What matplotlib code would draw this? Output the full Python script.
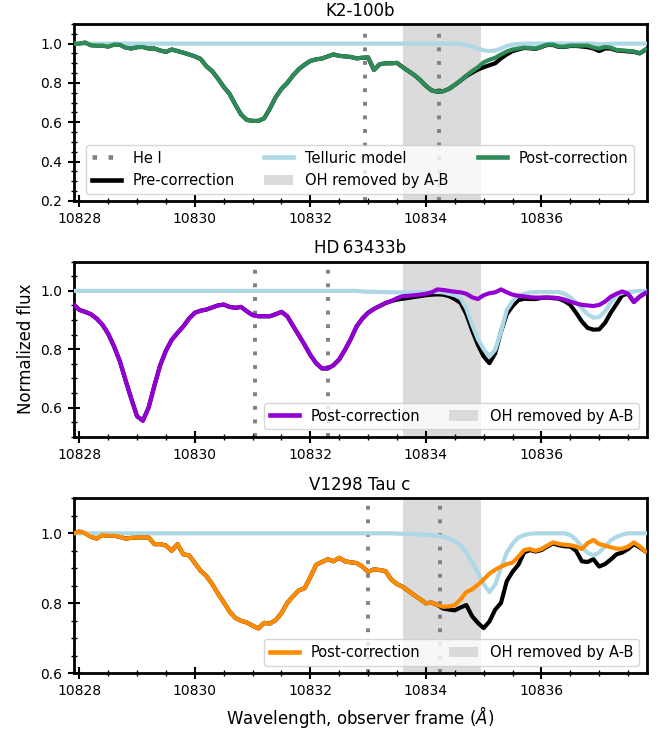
import numpy as np
import matplotlib
matplotlib.use("Agg")
import matplotlib.pyplot as plt
from matplotlib.ticker import MultipleLocator, AutoMinorLocator
from matplotlib.patches import Patch
from matplotlib.lines import Line2D

# wavelength grid of the spectra (Angstrom, observer frame), 0.1 A sampling
wave = np.round(np.linspace(10827.9, 10837.8, 100), 2)

# ---- K2-100b ----
k2_post = [0.998, 1.0, 1.005, 0.992, 0.99, 0.99, 0.985, 0.995, 0.995, 0.98,
           0.975, 0.982, 0.983, 0.975, 0.975, 0.965, 0.958, 0.97, 0.962, 0.954,
           0.945, 0.935, 0.922, 0.885, 0.86, 0.822, 0.78, 0.745, 0.69, 0.64,
           0.612, 0.607, 0.607, 0.62, 0.67, 0.728, 0.77, 0.8, 0.838, 0.87,
           0.893, 0.912, 0.92, 0.924, 0.935, 0.945, 0.938, 0.935, 0.932, 0.925,
           0.928, 0.93, 0.866, 0.895, 0.9, 0.9, 0.902, 0.88, 0.86, 0.84,
           0.815, 0.785, 0.762, 0.755, 0.758, 0.77, 0.79, 0.812, 0.838, 0.86,
           0.88, 0.905, 0.918, 0.928, 0.945, 0.96, 0.97, 0.975, 0.98, 0.978,
           0.975, 0.985, 0.995, 0.995, 0.985, 0.985, 0.99, 0.99, 0.99, 0.99,
           0.98, 0.975, 0.983, 0.98, 0.968, 0.966, 0.963, 0.96, 0.952, 0.97]
k2_pre = [0.998, 1.0, 1.005, 0.992, 0.99, 0.99, 0.985, 0.995, 0.995, 0.98,
          0.975, 0.982, 0.983, 0.975, 0.975, 0.965, 0.958, 0.97, 0.962, 0.954,
          0.945, 0.935, 0.922, 0.885, 0.86, 0.822, 0.78, 0.745, 0.69, 0.64,
          0.612, 0.607, 0.607, 0.62, 0.67, 0.728, 0.77, 0.8, 0.838, 0.87,
          0.893, 0.912, 0.92, 0.924, 0.935, 0.945, 0.938, 0.935, 0.932, 0.925,
          0.928, 0.93, 0.866, 0.895, 0.9, 0.9, 0.902, 0.88, 0.86, 0.84,
          0.815, 0.785, 0.762, 0.755, 0.758, 0.77, 0.79, 0.812, 0.835, 0.852,
          0.868, 0.88, 0.89, 0.9, 0.925, 0.945, 0.962, 0.97, 0.978, 0.976,
          0.973, 0.983, 0.993, 0.993, 0.983, 0.983, 0.988, 0.988, 0.985, 0.982,
          0.975, 0.962, 0.975, 0.975, 0.965, 0.963, 0.96, 0.958, 0.95, 0.968]
k2_tell = [1.0] * 10 + [1.0] * 10 + [1.0] * 10 + [1.0] * 10 + [1.0] * 10 + [1.0] * 10 + \
          [1.0, 1.0, 1.0, 1.0, 1.0, 1.0, 1.0, 0.998, 0.993, 0.985,
           0.975, 0.966, 0.962, 0.965, 0.975, 0.988, 0.995, 0.998, 1.0, 1.0,
           1.0, 1.0, 1.0, 1.0, 1.0, 1.0, 1.0, 1.0, 1.0, 1.0,
           1.0, 0.997, 0.997, 1.0, 1.0, 1.0, 1.0, 1.0, 1.0, 1.0]

# ---- HD 63433b ----
hd_post = [0.953, 0.935, 0.928, 0.92, 0.905, 0.884, 0.853, 0.81, 0.76, 0.694,
           0.63, 0.57, 0.555, 0.6, 0.675, 0.745, 0.795, 0.832, 0.856, 0.878,
           0.905, 0.925, 0.932, 0.936, 0.943, 0.95, 0.953, 0.945, 0.942, 0.945,
           0.93, 0.917, 0.913, 0.913, 0.913, 0.92, 0.928, 0.913, 0.88, 0.848,
           0.815, 0.78, 0.752, 0.734, 0.734, 0.745, 0.765, 0.798, 0.835, 0.878,
           0.905, 0.925, 0.938, 0.948, 0.958, 0.965, 0.975, 0.982, 0.983, 0.985,
           0.987, 0.99, 0.995, 1.005, 1.003, 1.0, 0.997, 0.995, 0.99, 0.978,
           0.972, 0.985, 0.992, 0.995, 1.005, 0.995, 0.987, 0.983, 0.981, 0.978,
           0.977, 0.977, 0.977, 0.977, 0.975, 0.97, 0.963, 0.957, 0.952, 0.95,
           0.948, 0.952, 0.963, 0.98, 0.99, 0.998, 0.99, 0.962, 0.98, 0.993]
hd_pre = [0.953, 0.935, 0.928, 0.92, 0.905, 0.884, 0.853, 0.81, 0.76, 0.694,
          0.63, 0.57, 0.555, 0.6, 0.675, 0.745, 0.795, 0.832, 0.856, 0.878,
          0.905, 0.925, 0.932, 0.936, 0.943, 0.95, 0.953, 0.945, 0.942, 0.945,
          0.93, 0.917, 0.913, 0.913, 0.913, 0.92, 0.928, 0.913, 0.88, 0.848,
          0.815, 0.78, 0.752, 0.734, 0.734, 0.745, 0.765, 0.798, 0.835, 0.878,
          0.905, 0.925, 0.938, 0.948, 0.958, 0.965, 0.97, 0.973, 0.976, 0.979,
          0.982, 0.985, 0.987, 0.988, 0.987, 0.982, 0.972, 0.959, 0.92, 0.865,
          0.815, 0.775, 0.752, 0.786, 0.86, 0.92, 0.948, 0.968, 0.973, 0.972,
          0.972, 0.976, 0.977, 0.975, 0.973, 0.965, 0.952, 0.925, 0.895, 0.873,
          0.867, 0.868, 0.89, 0.925, 0.955, 0.985, 0.99, 0.962, 0.98, 0.993]
hd_tell = [1.0] * 10 + [1.0] * 10 + [1.0] * 10 + [1.0] * 10 + [1.0] * 10 + \
          [0.998, 0.997, 0.997, 0.996, 0.996, 0.995, 0.995, 0.995, 0.995, 0.995,
           0.996, 0.996, 0.996, 0.996, 0.995, 0.99, 0.985, 0.975, 0.94, 0.885,
           0.835, 0.8, 0.775, 0.798, 0.86, 0.935, 0.965, 0.985, 0.99, 0.994,
           0.996, 0.996, 0.996, 0.996, 0.996, 0.99, 0.978, 0.96, 0.94, 0.92,
           0.908, 0.91, 0.93, 0.96, 0.985, 0.993, 0.996, 0.998, 1.0, 1.0]

# ---- V1298 Tau c ----
v_post = [1.0, 1.005, 1.0, 0.99, 0.985, 0.995, 0.993, 0.993, 0.99, 0.985,
          0.987, 0.988, 0.988, 0.988, 0.969, 0.969, 0.965, 0.95, 0.969, 0.94,
          0.937, 0.915, 0.893, 0.878, 0.855, 0.828, 0.803, 0.777, 0.758, 0.75,
          0.745, 0.736, 0.728, 0.744, 0.742, 0.752, 0.772, 0.801, 0.82, 0.837,
          0.843, 0.875, 0.91, 0.918, 0.926, 0.92, 0.93, 0.92, 0.917, 0.915,
          0.905, 0.89, 0.897, 0.895, 0.892, 0.868, 0.855, 0.847, 0.835, 0.823,
          0.812, 0.8, 0.802, 0.795, 0.79, 0.791, 0.795, 0.811, 0.832, 0.84,
          0.853, 0.868, 0.885, 0.896, 0.905, 0.912, 0.916, 0.933, 0.952, 0.955,
          0.95, 0.955, 0.965, 0.974, 0.97, 0.967, 0.966, 0.962, 0.955, 0.972,
          0.981, 0.969, 0.965, 0.96, 0.956, 0.956, 0.962, 0.974, 0.963, 0.948]
v_pre = [1.0, 1.005, 1.0, 0.99, 0.985, 0.995, 0.993, 0.993, 0.99, 0.985,
         0.987, 0.988, 0.988, 0.988, 0.969, 0.969, 0.965, 0.95, 0.969, 0.94,
         0.937, 0.915, 0.893, 0.878, 0.855, 0.828, 0.803, 0.777, 0.758, 0.75,
         0.745, 0.736, 0.728, 0.744, 0.742, 0.752, 0.772, 0.801, 0.82, 0.837,
         0.843, 0.875, 0.91, 0.918, 0.926, 0.92, 0.93, 0.92, 0.917, 0.915,
         0.905, 0.89, 0.897, 0.895, 0.892, 0.868, 0.855, 0.847, 0.835, 0.823,
         0.812, 0.8, 0.802, 0.795, 0.785, 0.782, 0.78, 0.788, 0.795, 0.763,
         0.744, 0.729, 0.748, 0.782, 0.801, 0.863, 0.89, 0.91, 0.945, 0.952,
         0.948, 0.952, 0.962, 0.971, 0.966, 0.963, 0.962, 0.95, 0.92, 0.918,
         0.926, 0.905, 0.912, 0.925, 0.94, 0.945, 0.955, 0.969, 0.96, 0.948]
v_tell = [1.0] * 10 + [1.0] * 10 + [1.0] * 10 + [1.0] * 10 + [1.0] * 10 + \
         [1.0, 1.0, 1.0, 1.0, 1.0, 1.0, 0.999, 0.999, 0.998, 0.998,
          0.997, 0.996, 0.995, 0.993, 0.99, 0.985, 0.978, 0.965, 0.945, 0.916,
          0.888, 0.855, 0.832, 0.854, 0.9, 0.945, 0.97, 0.988, 0.995, 0.998,
          1.0, 1.0, 1.0, 1.0, 1.0, 1.0, 0.995, 0.982, 0.962, 0.944,
          0.937, 0.945, 0.962, 0.98, 0.99, 0.996, 1.0, 1.0, 1.0, 1.0]

titles = ["K2-100b", "HD\u200963433b", "V1298 Tau c"]
post_colors = ["seagreen", "darkviolet", "darkorange"]
he_lines = [(10832.95, 10834.22), (10831.05, 10832.31), (10832.99, 10834.25)]
oh_band = (10833.6, 10834.95)
ylims = [(0.2, 1.1), (0.5, 1.1), (0.6, 1.1)]
spectra = [(k2_pre, k2_post, k2_tell), (hd_pre, hd_post, hd_tell), (v_pre, v_post, v_tell)]

dots = (0, (1, 2.5))

fig = plt.figure(figsize=(6.63, 7.3), dpi=100)
boxes = [[0.1109, 0.7247, 0.8643, 0.2425],
         [0.1109, 0.4018, 0.8643, 0.2397],
         [0.1109, 0.0777, 0.8643, 0.2397]]

for i, box in enumerate(boxes):
    ax = fig.add_axes(box)
    pre, post, tell = spectra[i]
    ax.axvspan(*oh_band, color="lightgray", alpha=0.8, lw=0, zorder=0)
    for w in he_lines[i]:
        ax.axvline(w, color="gray", ls=dots, lw=2.8, zorder=1)
    ax.plot(wave, pre, color="black", lw=3, zorder=2)
    ax.plot(wave, tell, color="lightblue", lw=3, zorder=3)
    ax.plot(wave, post, color=post_colors[i], lw=3, zorder=4)

    ax.set_xlim(10827.9, 10837.82)
    ax.set_ylim(*ylims[i])
    ax.set_title(titles[i], fontsize=12)
    ax.xaxis.set_major_locator(MultipleLocator(2))
    ax.xaxis.set_minor_locator(AutoMinorLocator(4))
    ax.yaxis.set_major_locator(MultipleLocator(0.2))
    ax.yaxis.set_minor_locator(AutoMinorLocator(4))
    ax.ticklabel_format(axis="x", useOffset=False)
    ax.tick_params(which="major", direction="inout", length=9, width=1.5, labelsize=10)
    ax.tick_params(which="minor", direction="inout", length=5, width=1)
    for s in ax.spines.values():
        s.set_linewidth(2)

    oh_patch = Patch(facecolor="lightgray", alpha=0.8, label="OH removed by A-B")
    post_line = Line2D([], [], color=post_colors[i], lw=3.3, label="Post-correction")
    if i == 0:
        handles = [Line2D([], [], color="gray", ls=dots, lw=3.3, label="He I"),
                   Line2D([], [], color="black", lw=3.3, label="Pre-correction"),
                   Line2D([], [], color="lightblue", lw=3.3, label="Telluric model"),
                   oh_patch, post_line]
        ax.legend(handles=handles, ncol=3, loc="lower center", fontsize=10.5)
    else:
        ax.legend(handles=[post_line, oh_patch], ncol=2, loc="lower right", fontsize=10.5)

    if i == 1:
        ax.set_ylabel("Normalized flux", fontsize=12)
    if i == 2:
        ax.set_xlabel(r"Wavelength, observer frame ($\AA$)", fontsize=12)

fig.savefig("out.png", dpi=100)
